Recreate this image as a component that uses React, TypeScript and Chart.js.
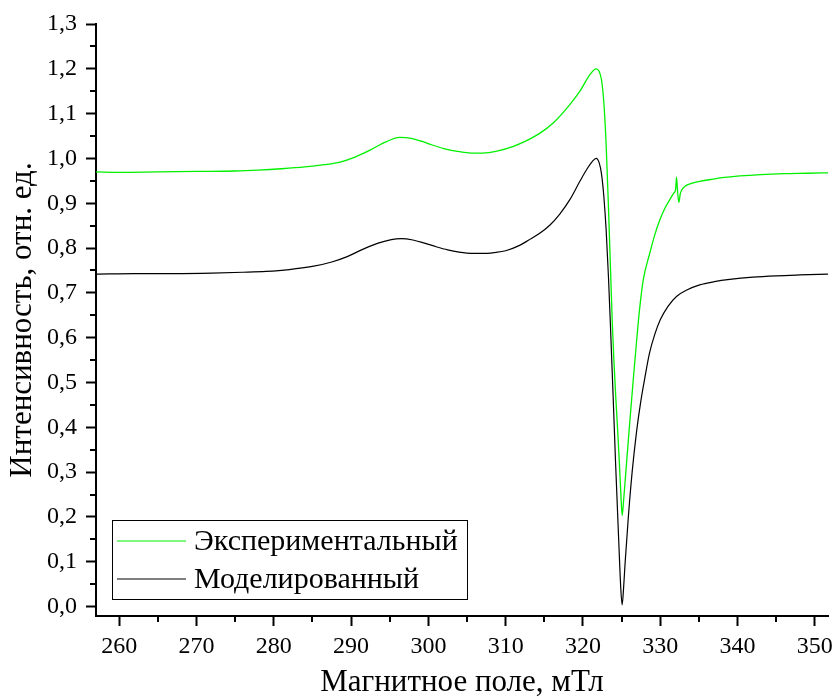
import React, { useEffect, useRef } from "react";
import { Chart, registerables } from "chart.js";

Chart.register(...registerables);

const FONT = "'Liberation Serif'";

// Experimental spectrum (green)
const expX = [
  257, 260, 265, 270, 275, 278, 281, 284, 286.5, 288.6, 290.5, 292.5, 294.5, 296.3, 297.8,
  299.2, 300.5, 302, 304, 305.5, 307, 309, 311, 312.5, 314.4, 316.15, 318.3, 319.6, 320.9,
  321.7, 322.1, 322.4, 322.7, 323.0, 323.3, 323.57, 323.8, 324.0, 324.25, 324.5, 324.75,
  324.92, 325.07, 325.25, 325.5, 326.0, 326.5, 327.0, 327.3, 327.8, 328.65, 329.3, 329.95,
  330.6, 331.24, 331.76, 331.98, 332.1, 332.25, 332.4, 332.6, 332.96, 333.5, 335.1, 336.5, 338,
  340.3, 343, 346, 349, 351.7,
];
const expY = [
  0.970, 0.969, 0.970, 0.971, 0.972, 0.974, 0.977, 0.981, 0.986, 0.992, 1.003, 1.019, 1.037,
  1.047, 1.045, 1.038, 1.030, 1.022, 1.015, 1.012, 1.012, 1.017, 1.027, 1.038, 1.056, 1.079,
  1.120, 1.150, 1.187, 1.200, 1.194, 1.175, 1.125, 1.030, 0.890, 0.750, 0.630, 0.550, 0.465,
  0.390, 0.305, 0.245, 0.203, 0.235, 0.290, 0.400, 0.505, 0.605, 0.660, 0.729, 0.789, 0.830,
  0.863, 0.889, 0.908, 0.923, 0.930, 0.958, 0.925, 0.902, 0.922, 0.934, 0.941, 0.949, 0.953,
  0.957, 0.961, 0.964, 0.966, 0.967, 0.968,
];

// Simulated spectrum (black)
const simX = [
  257, 262, 267, 272, 276, 279, 282, 285, 287.5, 289.5, 291.5, 293.5, 295.2, 296.5, 298,
  299.5, 301, 302.5, 304, 305.5, 307, 308.5, 310, 311.8, 313, 314.4, 315.7, 317, 318.3, 319.6,
  320.5, 321.2, 321.7, 322.1, 322.4, 322.7, 323.0, 323.3, 323.57, 323.9, 324.22, 324.64,
  324.88, 325.07, 325.25, 325.45, 325.87, 326.36, 326.93, 327.5, 328.0, 328.6, 329.3, 330.0,
  331.0, 332.1, 333.5, 335.1, 337, 339, 342, 345, 348, 351.7,
];
const simY = [
  0.742, 0.743, 0.743, 0.744, 0.746, 0.748, 0.752, 0.759, 0.769, 0.781, 0.797, 0.811, 0.819,
  0.821, 0.818, 0.811, 0.803, 0.796, 0.791, 0.788, 0.788, 0.790, 0.794, 0.806, 0.818, 0.833,
  0.851, 0.876, 0.908, 0.949, 0.976, 0.993, 1.000, 0.990, 0.965, 0.915, 0.840, 0.735, 0.620,
  0.470, 0.320, 0.141, 0.045, 0.004, 0.040, 0.097, 0.200, 0.300, 0.390, 0.460, 0.510, 0.565,
  0.608, 0.640, 0.670, 0.692, 0.707, 0.718, 0.725, 0.730, 0.735, 0.738, 0.740, 0.742,
];

const seriesLabels = ["Экспериментальный", "Моделированный"];
const seriesColors = ["#00f000", "#000000"];

const xTicks = [260, 270, 280, 290, 300, 310, 320, 330, 340, 350];
const xMinorTicks = [265, 275, 285, 295, 305, 315, 325, 335, 345];
const yTicks = [0, 0.1, 0.2, 0.3, 0.4, 0.5, 0.6, 0.7, 0.8, 0.9, 1.0, 1.1, 1.2, 1.3];
const yMinorTicks = [0.05, 0.15, 0.25, 0.35, 0.45, 0.55, 0.65, 0.75, 0.85, 0.95, 1.05, 1.15, 1.25];

const xTitle = "Магнитное поле, мТл";
const yTitle = "Интенсивность, отн. ед.";

const X_MIN = 257;
const X_MAX = 351.7;
const Y_MIN = -0.021;
const Y_MAX = 1.3;

const TICK_SIZE = 24;
const TITLE_SIZE = 31;
const LEGEND_SIZE = 30;

const minorTickPlugin = {
  id: "minorTicks",
  afterDraw(chart: any) {
    const { ctx, chartArea, scales } = chart;
    const xs = scales.x;
    const ys = scales.y;
    ctx.save();
    ctx.strokeStyle = "#000";
    ctx.lineWidth = 2;
    ctx.beginPath();
    xMinorTicks.forEach((v) => {
      const px = Math.round(xs.getPixelForValue(v));
      ctx.moveTo(px, chartArea.bottom);
      ctx.lineTo(px, chartArea.bottom + 6);
    });
    yMinorTicks.forEach((v) => {
      const py = Math.round(ys.getPixelForValue(v));
      ctx.moveTo(chartArea.left, py);
      ctx.lineTo(chartArea.left - 6, py);
    });
    ctx.stroke();
    ctx.restore();
  },
};

const legendPlugin = {
  id: "boxLegend",
  afterDraw(chart: any) {
    const { ctx, chartArea } = chart;
    const left = chartArea.left + 16;
    const top = chartArea.bottom - 96;
    const w = 355;
    const h = 79;
    ctx.save();
    ctx.fillStyle = "#fff";
    ctx.fillRect(left, top, w, h);
    ctx.strokeStyle = "#000";
    ctx.lineWidth = 1;
    ctx.strokeRect(left + 0.5, top + 0.5, w, h);
    ctx.font = `${LEGEND_SIZE}px ${FONT}`;
    ctx.textBaseline = "middle";
    ctx.textAlign = "left";
    seriesLabels.forEach((lab, i) => {
      const cy = top + 21 + i * 38;
      ctx.strokeStyle = seriesColors[i];
      ctx.lineWidth = 1.2;
      ctx.beginPath();
      ctx.moveTo(left + 5, cy);
      ctx.lineTo(left + 74, cy);
      ctx.stroke();
      ctx.fillStyle = "#000";
      ctx.fillText(lab, left + 82, cy + 1.5);
    });
    ctx.restore();
  },
};

function makeChart(canvas: HTMLCanvasElement) {
  return new Chart(canvas, {
    type: "line",
    data: {
      datasets: [
        {
          label: seriesLabels[0],
          data: expX.map((x, i) => ({ x, y: expY[i] })),
          borderColor: seriesColors[0],
          borderWidth: 1.3,
          pointRadius: 0,
          cubicInterpolationMode: "monotone",
          fill: false,
        },
        {
          label: seriesLabels[1],
          data: simX.map((x, i) => ({ x, y: simY[i] })),
          borderColor: seriesColors[1],
          borderWidth: 1.2,
          pointRadius: 0,
          cubicInterpolationMode: "monotone",
          fill: false,
        },
      ],
    },
    options: {
      animation: false,
      responsive: false,
      devicePixelRatio: 1,
      layout: { padding: { top: 24, right: 7, left: 0, bottom: 0 } },
      plugins: {
        legend: { display: false },
        tooltip: { enabled: false },
      },
      scales: {
        x: {
          type: "linear",
          min: X_MIN,
          max: X_MAX,
          afterBuildTicks: (s: any) => {
            s.ticks = xTicks.map((v) => ({ value: v }));
          },
          afterFit: (s: any) => {
            s.height = 84;
            s.paddingLeft = 0;
            s.paddingRight = 0;
          },
          ticks: {
            autoSkip: false,
            maxRotation: 0,
            padding: 6,
            color: "#000",
            font: { family: FONT, size: TICK_SIZE },
            callback: (v: any) => String(v),
          },
          grid: {
            drawOnChartArea: false,
            drawTicks: true,
            tickLength: 10,
            tickWidth: 2,
            tickColor: "#000",
            color: "#000",
          },
          border: { display: true, color: "#000", width: 2 },
          title: {
            display: true,
            text: xTitle,
            color: "#000",
            font: { family: FONT, size: TITLE_SIZE, lineHeight: 1 },
            padding: { top: 0, bottom: 2 },
          },
        },
        y: {
          type: "linear",
          min: Y_MIN,
          max: Y_MAX,
          afterBuildTicks: (s: any) => {
            s.ticks = yTicks.map((v) => ({ value: v }));
          },
          afterFit: (s: any) => {
            s.width = 96;
            s.paddingTop = 0;
            s.paddingBottom = 0;
          },
          ticks: {
            autoSkip: false,
            padding: 9,
            color: "#000",
            font: { family: FONT, size: TICK_SIZE },
            callback: (v: any) => Number(v).toFixed(1).replace(".", ","),
          },
          grid: {
            drawOnChartArea: false,
            drawTicks: true,
            tickLength: 10,
            tickWidth: 2,
            tickColor: "#000",
            color: "#000",
          },
          border: { display: true, color: "#000", width: 2 },
          title: {
            display: true,
            text: yTitle,
            color: "#000",
            font: { family: FONT, size: TITLE_SIZE, lineHeight: 1 },
            padding: { top: 7, bottom: 0 },
          },
        },
      },
    },
    plugins: [minorTickPlugin, legendPlugin],
  } as any);
}

export default function App() {
  const ref = useRef<HTMLCanvasElement | null>(null);

  useEffect(() => {
    if (!ref.current) return;
    const chart = makeChart(ref.current);
    return () => chart.destroy();
  }, []);

  return (
    <div
      style={{
        position: "fixed",
        left: 0,
        top: 0,
        width: 835,
        height: 700,
        background: "#fff",
      }}
    >
      <canvas ref={ref} width={835} height={700} style={{ display: "block" }} />
    </div>
  );
}
